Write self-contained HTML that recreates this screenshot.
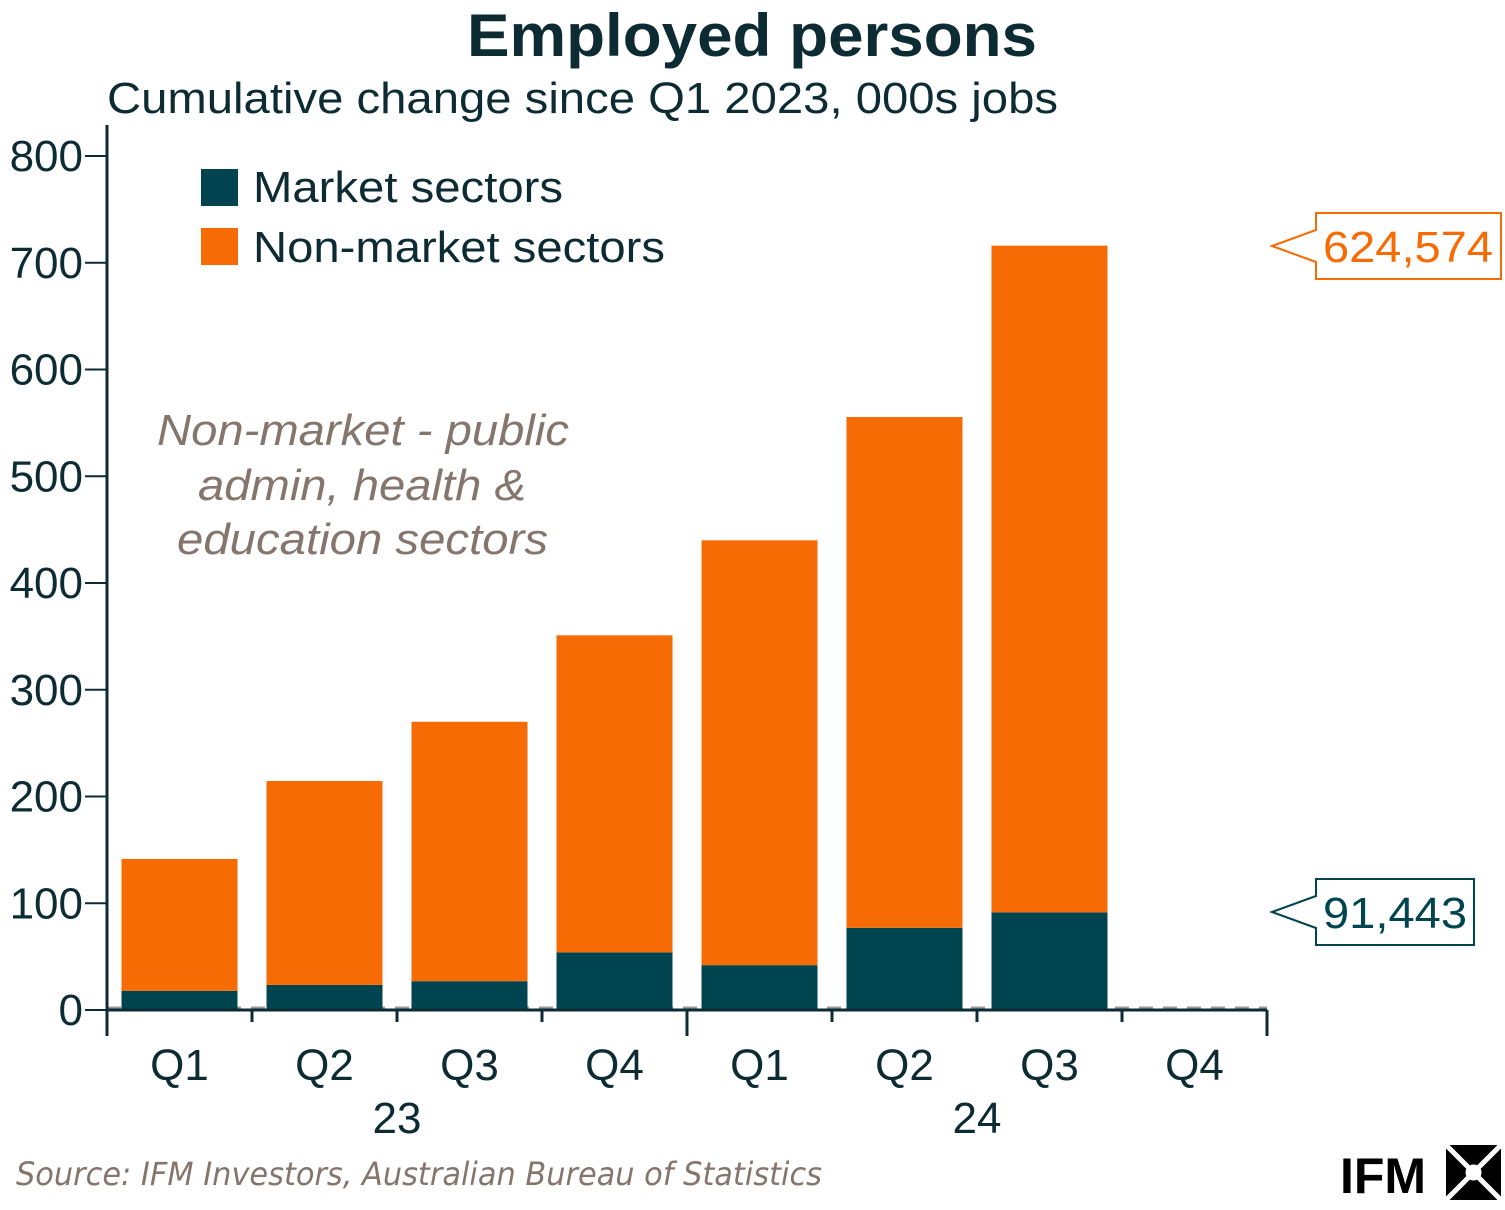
<!DOCTYPE html>
<html><head><meta charset="utf-8"><style>
html,body{margin:0;padding:0;background:#fff;width:1505px;height:1210px;overflow:hidden}
svg{display:block;font-family:"Liberation Sans",sans-serif}
</style></head><body>
<svg id="chart" width="1505" height="1210">
<text x="467" y="56" textLength="570" lengthAdjust="spacingAndGlyphs" font-size="60" font-weight="bold" fill="#0d2b33">Employed persons</text>
<text x="107" y="113" textLength="951" lengthAdjust="spacingAndGlyphs" font-size="44" fill="#0d2b33">Cumulative change since Q1 2023, 000s jobs</text>
<g id="bars"></g>
<g id="axes"></g>
<g>
<rect x="201" y="169" width="37" height="37" fill="#004450"/>
<text x="253" y="202" textLength="310" lengthAdjust="spacingAndGlyphs" font-size="44" fill="#0d2b33">Market sectors</text>
<rect x="201" y="228" width="37" height="37" fill="#f76b04"/>
<text x="253" y="262" textLength="412" lengthAdjust="spacingAndGlyphs" font-size="44" fill="#0d2b33">Non-market sectors</text>
</g>
<g font-size="44" font-style="italic" fill="#84766c">
<text x="157" y="445" textLength="412" lengthAdjust="spacingAndGlyphs">Non-market - public</text>
<text x="198" y="500" textLength="328" lengthAdjust="spacingAndGlyphs">admin, health &amp;</text>
<text x="177" y="554" textLength="371" lengthAdjust="spacingAndGlyphs">education sectors</text>
</g>
<g>
<path d="M1316,213 H1501 V279 H1316 V262 L1272,246 L1316,230 Z" fill="#fff" stroke="#f76b04" stroke-width="2"/>
<text x="1323" y="262" textLength="170" lengthAdjust="spacingAndGlyphs" font-size="44" fill="#f76b04">624,574</text>
</g>
<g>
<path d="M1316,879 H1474 V945 H1316 V928 L1272,912 L1316,896 Z" fill="#fff" stroke="#004450" stroke-width="2"/>
<text x="1323" y="928" textLength="144" lengthAdjust="spacingAndGlyphs" font-size="44" fill="#004450">91,443</text>
</g>
<text x="16" y="1185" textLength="806" lengthAdjust="spacingAndGlyphs" font-size="32" font-style="italic" fill="#84766c" font-family="'DejaVu Sans Condensed','Liberation Sans',sans-serif">Source: IFM Investors, Australian Bureau of Statistics</text>
<g>
<text x="1340" y="1193" font-size="50" font-weight="bold" fill="#000">IFM</text>
<g transform="translate(1446,1145)">
<rect x="0" y="0" width="55" height="55" fill="#000"/>
<path d="M0,0 L55,55 M55,0 L0,55" stroke="#fff" stroke-width="5"/>
<circle cx="27.5" cy="27.5" r="8" fill="#fff"/>
</g>
</g>
</svg>
<script>
const categories = ["Q1","Q2","Q3","Q4","Q1","Q2","Q3","Q4"];
const years = ["23","24"];
const marketValues = [18, 23.5, 27, 54, 42, 77, 91.4, null];
const nonMarketValues = [123.5, 191, 243, 297, 398, 478.5, 624.6, null];
const yTicks = [0,100,200,300,400,500,600,700,800];

const NS = "http://www.w3.org/2000/svg";
const x0 = 107, catW = 145, barW = 116;
const y = v => 1010 - v * 1.0675;
const xc = i => x0 + catW * (i + 0.5);
function mk(tag, attrs, parent){const e=document.createElementNS(NS,tag);for(const k in attrs)e.setAttribute(k,attrs[k]);parent.appendChild(e);return e;}
const bars = document.getElementById('bars');
const axes = document.getElementById('axes');
categories.forEach((c,i)=>{
  const m = marketValues[i], n = nonMarketValues[i];
  if (m == null) return;
  const r1 = mk('rect',{x:xc(i)-barW/2,y:y(m),width:barW,height:y(0)-y(m),fill:'#004450'},bars);
  
  
  const r2 = mk('rect',{x:xc(i)-barW/2,y:y(m+n),width:barW,height:y(m)-y(m+n),fill:'#f76b04'},bars);
  
  
});
const dl = mk('line',{x1:x0,x2:x0+catW*categories.length,y1:y(0)-2,y2:y(0)-2,stroke:'#999','stroke-width':3,'stroke-dasharray':'14 10'},axes);


bars.parentNode.insertBefore(dl, bars);
const ya = mk('line',{x1:x0,x2:x0,y1:125,y2:1036,stroke:'#0d2b33','stroke-width':3},axes);


const xa = mk('line',{x1:x0,x2:x0+catW*categories.length,y1:y(0),y2:y(0),stroke:'#0d2b33','stroke-width':3},axes);


yTicks.forEach(t=>{
  const l = mk('line',{x1:x0-22,x2:x0,y1:y(t),y2:y(t),stroke:'#0d2b33','stroke-width':2},axes);
  
  
  const tx = mk('text',{x:x0-24,y:y(t)+15,'text-anchor':'end','font-size':44,fill:'#0d2b33'},axes);
  tx.textContent = t;
  
  
});
for(let i=0;i<=categories.length;i++){
  const big = i % 4 === 0;
  const l = mk('line',{x1:x0+catW*i,x2:x0+catW*i,y1:y(0),y2:big?1036:1022,stroke:'#0d2b33','stroke-width':3},axes);
  
  
}
categories.forEach((c,i)=>{
  const t = mk('text',{x:xc(i),y:1080,'text-anchor':'middle','font-size':44,fill:'#0d2b33'},axes);
  t.textContent = c;
  
  
});
years.forEach((yr,j)=>{
  const t = mk('text',{x:x0+catW*(4*j+2),y:1133,'text-anchor':'middle','font-size':44,fill:'#0d2b33'},axes);
  t.textContent = yr;
  
  
});
</script>
</body></html>
